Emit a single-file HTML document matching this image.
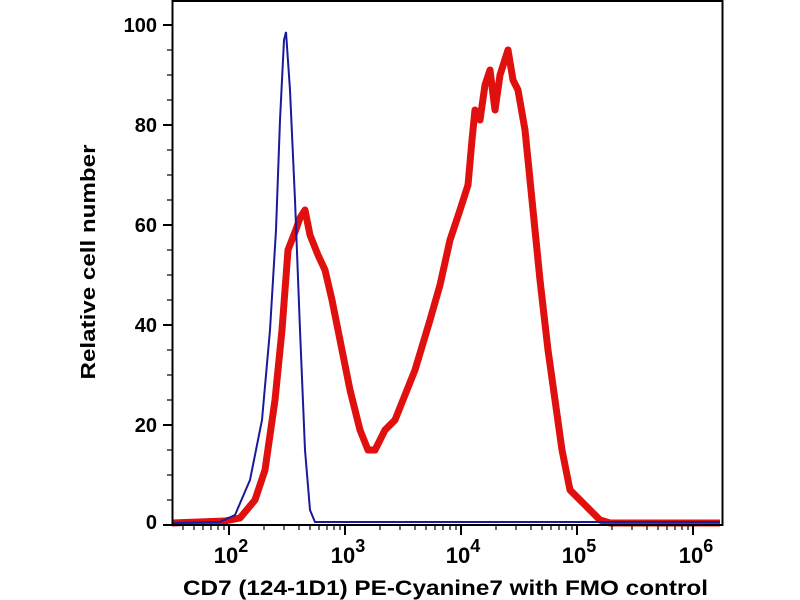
<!DOCTYPE html>
<html><head><meta charset="utf-8"><style>body{margin:0;background:#fff}svg{display:block}</style></head><body>
<svg width="800" height="600" xmlns="http://www.w3.org/2000/svg" font-family="Liberation Sans, sans-serif" font-weight="bold">
<rect width="800" height="600" fill="#fff"/>
<polyline fill="none" stroke="#e0100f" stroke-width="7" stroke-linejoin="round" points="172,523 225,521 240,518 255,500 265,470 275,400 282,330 288,250 295,232 300,218 305,210 310,235 318,255 325,270 332,300 340,340 350,390 360,430 368,450 375,450 385,430 395,420 405,395 415,370 430,320 440,285 450,240 460,210 468,185 472,140 475,110 480,120 485,85 490,70 495,110 500,75 508,50 513,80 518,90 525,130 532,200 540,280 548,350 555,400 562,450 570,490 580,500 590,510 600,520 610,523 720,523"/>
<polyline fill="none" stroke="#1a1a9a" stroke-width="2" points="172,523 220,522 235,515 250,480 262,420 270,330 276,230 280,120 284,40 286,32 290,90 295,200 300,330 305,450 310,510 315,522 720,522"/>
<rect x="172.5" y="1" width="550" height="524" fill="none" stroke="#000" stroke-width="2"/>
<g stroke="#000" stroke-width="2">
<line x1="163" y1="25" x2="172" y2="25"/><line x1="163" y1="125" x2="172" y2="125"/><line x1="163" y1="225" x2="172" y2="225"/><line x1="163" y1="325" x2="172" y2="325"/><line x1="163" y1="425" x2="172" y2="425"/><line x1="163" y1="525" x2="172" y2="525"/>
<line x1="229" y1="525" x2="229" y2="535"/><line x1="345" y1="525" x2="345" y2="535"/><line x1="461" y1="525" x2="461" y2="535"/><line x1="577" y1="525" x2="577" y2="535"/><line x1="693" y1="525" x2="693" y2="535"/>
</g>
<g stroke="#000" stroke-width="1.2">
<line x1="167" y1="50" x2="172" y2="50"/><line x1="167" y1="75" x2="172" y2="75"/><line x1="167" y1="100" x2="172" y2="100"/>
<line x1="167" y1="150" x2="172" y2="150"/><line x1="167" y1="175" x2="172" y2="175"/><line x1="167" y1="200" x2="172" y2="200"/>
<line x1="167" y1="250" x2="172" y2="250"/><line x1="167" y1="275" x2="172" y2="275"/><line x1="167" y1="300" x2="172" y2="300"/>
<line x1="167" y1="350" x2="172" y2="350"/><line x1="167" y1="375" x2="172" y2="375"/><line x1="167" y1="400" x2="172" y2="400"/>
<line x1="167" y1="450" x2="172" y2="450"/><line x1="167" y1="475" x2="172" y2="475"/><line x1="167" y1="500" x2="172" y2="500"/>
<path d="M183,525v5M194,525v5M203,525v5M211,525v5M218,525v5M224,525v5
M264,525v5M284,525v5M299,525v5M310,525v5M319,525v5M327,525v5M334,525v5M340,525v5
M380,525v5M400,525v5M415,525v5M426,525v5M435,525v5M443,525v5M450,525v5M456,525v5
M496,525v5M516,525v5M531,525v5M542,525v5M551,525v5M559,525v5M566,525v5M572,525v5
M612,525v5M632,525v5M647,525v5M658,525v5M667,525v5M675,525v5M682,525v5M688,525v5"/>
</g>
<g font-size="20" text-anchor="end" fill="#000">
<text x="157" y="32">100</text><text x="157" y="132">80</text><text x="157" y="232">60</text><text x="157" y="332">40</text><text x="157" y="432">20</text><text x="157" y="529">0</text>
</g>
<g font-size="22" fill="#000" text-anchor="middle">
<text x="231" y="563">10<tspan dy="-11" font-size="18">2</tspan></text>
<text x="348" y="563">10<tspan dy="-11" font-size="18">3</tspan></text>
<text x="463" y="563">10<tspan dy="-11" font-size="18">4</tspan></text>
<text x="579" y="563">10<tspan dy="-11" font-size="18">5</tspan></text>
<text x="696" y="563">10<tspan dy="-11" font-size="18">6</tspan></text>
</g>
<text x="183" y="595" font-size="21" textLength="525" lengthAdjust="spacingAndGlyphs">CD7 (124-1D1) PE-Cyanine7 with FMO control</text>
<text transform="translate(95,262) rotate(-90)" font-size="20" text-anchor="middle" textLength="235" lengthAdjust="spacingAndGlyphs">Relative cell number</text>
</svg>
</body></html>
